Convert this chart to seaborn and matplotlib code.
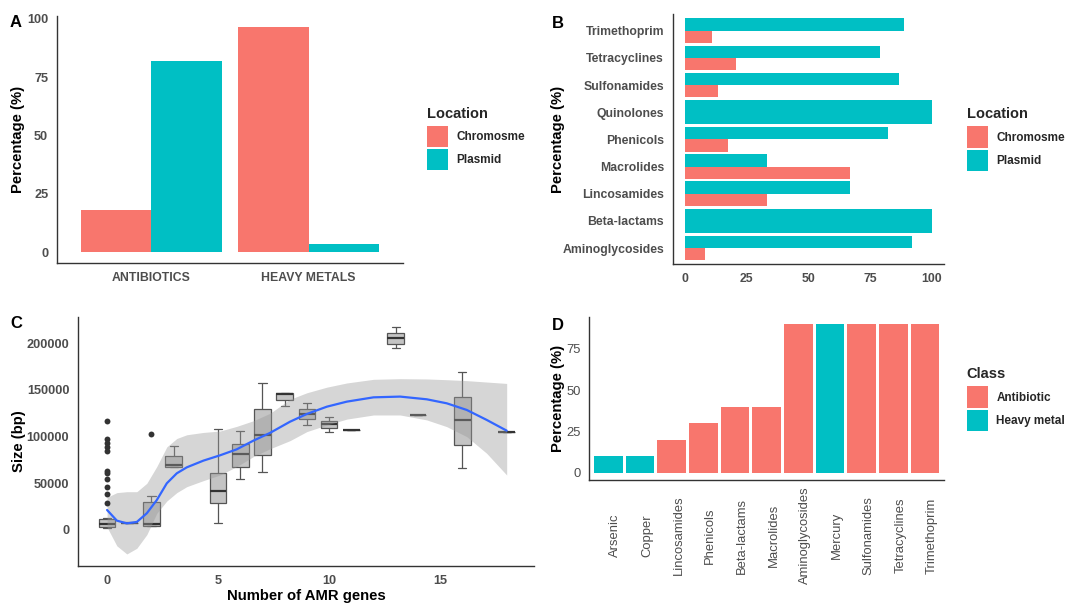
import numpy as np
import pandas as pd
import matplotlib
matplotlib.use("Agg")
import matplotlib.pyplot as plt
from matplotlib.patches import Patch
from matplotlib.transforms import ScaledTranslation
import seaborn as sns

sns.set_style("white")
plt.rcParams["font.family"] = ["Liberation Sans", "DejaVu Sans"]

# ---------------- data ----------------
# Panel A
a_types = ["ANTIBIOTICS", "HEAVY METALS"]
a_chromosome = [18.2, 96.5]
a_plasmid = [81.8, 3.5]

# Panel B (None = no chromosomal gene)
b_classes = ["Trimethoprim", "Tetracyclines", "Sulfonamides", "Quinolones", "Phenicols",
             "Macrolides", "Lincosamides", "Beta-lactams", "Aminoglycosides"]
b_plasmid = [88.9, 79.2, 86.8, 100.0, 82.4, 33.3, 66.7, 100.0, 92.1]
b_chromosome = [11.1, 20.8, 13.2, None, 17.6, 66.7, 33.3, None, 7.9]

# Panel C: box summaries (bp) per number of AMR genes
c_genes = [0, 1, 2, 3, 5, 6, 7, 8, 9, 10, 11, 13, 14, 16, 18]
c_min = [1800, 7100, 4000, 67900, 7100, 55000, 61800, 133200, 112500, 105400, 107100, 194600, 123200, 66800, 105000]
c_q1 = [3600, 7100, 4300, 67900, 28600, 67100, 80400, 139300, 118600, 109000, 107100, 199600, 123200, 91400, 105000]
c_med = [6800, 7100, 6400, 69600, 41400, 81400, 101800, 145700, 124300, 113200, 107100, 205400, 123200, 118200, 105000]
c_q3 = [11400, 7100, 29600, 79000, 61400, 92500, 129300, 146400, 129300, 116400, 107100, 211400, 123200, 142900, 105000]
c_max = [13000, 7100, 36800, 90000, 108200, 106000, 157900, 146400, 135700, 120700, 107100, 217100, 123200, 169600, 105000]
c_out_x = [0, 0, 0, 0, 0, 0, 0, 0, 0, 0, 0, 2]
c_out_y = [117000, 97500, 93600, 89300, 85000, 63600, 60700, 54300, 46400, 38200, 29300, 102500]
# loess fit and confidence band (bp)
c_fit_x = [0, 0.44, 0.89, 1.34, 1.79, 2.24, 2.69, 3.14, 3.59, 4.34, 5.09, 5.84, 6.59, 7.34,
           8.24, 9.0, 9.9, 10.8, 12.0, 13.2, 14.4, 15.3, 16.2, 17.1, 18.0]
c_fit = [21400, 10000, 7100, 8600, 17900, 32100, 50000, 60700, 67100, 74300, 80000, 86400, 95700, 104000,
         116000, 124300, 132100, 137500, 142100, 142900, 140000, 135700, 128600, 117900, 106400]
c_hi = [35000, 40000, 41000, 41000, 50000, 68000, 89000, 98000, 102000, 104500, 106000, 111000, 117000, 125000,
        140000, 147000, 153000, 157500, 161400, 162100, 161800, 161000, 160000, 158500, 157000]
c_lo = [3000, -17000, -25700, -19600, -5000, 17900, 31000, 40000, 46400, 52900, 58900, 67900, 78600, 87000,
        95700, 105400, 112500, 118800, 123200, 123200, 117900, 110700, 100000, 82100, 58900]

# Panel D
d_names = ["Arsenic", "Copper", "Lincosamides", "Phenicols", "Beta-lactams", "Macrolides",
           "Aminoglycosides", "Mercury", "Sulfonamides", "Tetracyclines", "Trimethoprim"]
d_pct = [10, 10, 20, 30, 40, 40, 90, 90, 90, 90, 90]
d_class = ["Heavy metal", "Heavy metal", "Antibiotic", "Antibiotic", "Antibiotic", "Antibiotic",
           "Antibiotic", "Heavy metal", "Antibiotic", "Antibiotic", "Antibiotic"]

RED, TEAL = "#F8766D", "#00BFC4"
W, H = 1066, 608
fig = plt.figure(figsize=(W / 100, H / 100), dpi=100)


def add_ax(l, t, r, b):
    return fig.add_axes([l / W, 1 - b / H, (r - l) / W, (b - t) / H])


def style(ax, size=8.8):
    sns.despine(ax=ax)
    for s in ("left", "bottom"):
        ax.spines[s].set_color("#333333")
        ax.spines[s].set_linewidth(1.0)
    ax.tick_params(length=3.8, width=0.9, color="#333333", labelcolor="#4D4D4D",
                   pad=2.5, labelsize=size)


def ylab(ax, text, px_x, l, r):
    ax.set_ylabel(text, fontsize=10.7, fontweight="bold", color="black", va="center")
    ax.yaxis.set_label_coords((px_x - l) / (r - l), 0.5)


def legend(ax, title, labels, colors, x_px, top_px):
    handles = [Patch(facecolor=c, edgecolor="none") for c in colors]
    leg = ax.legend(handles, labels, title=title, loc="upper left",
                    bbox_to_anchor=(x_px / W, 1 - top_px / H), bbox_transform=fig.transFigure,
                    frameon=False, borderpad=0, borderaxespad=0, handlelength=1.8,
                    handleheight=2.4, handletextpad=0.7, labelspacing=0.17, fontsize=8.5,
                    title_fontproperties={"weight": "bold", "size": 10.5}, alignment="left")
    for t in leg.get_texts():
        t.set_fontweight("bold")
    leg._legend_box.sep = 3.6  # gap between title and keys (points)
    return leg


# ---------------- Panel A ----------------
dfA = pd.DataFrame({
    "Type": a_types * 2,
    "Percentage": a_chromosome + a_plasmid,
    "Location": ["Chromosme"] * 2 + ["Plasmid"] * 2,
})
axA = add_ax(57, 15.7, 403, 263.3)
sns.barplot(data=dfA, x="Type", y="Percentage", hue="Location", order=a_types,
            hue_order=["Chromosme", "Plasmid"], palette=[RED, TEAL], width=0.9,
            saturation=1, legend=False, ax=axA, linewidth=0)
style(axA)
axA.set_xlim(-0.6, 1.6)
axA.set_ylim(-4.83, 101.33)
axA.set_yticks([0, 25, 50, 75, 100], ["0", "25", "50", "75", "100"], fontweight="bold", fontsize=9.2)
axA.set_xticks([0, 1], a_types, fontweight="bold")
axA.set_xlabel("")
ylab(axA, "Percentage (%)", 18.5, 57, 403)
legend(axA, "Location", ["Chromosme", "Plasmid"], [RED, TEAL], 427, 106.7)

# ---------------- Panel B ----------------
rows = []
for c, p, ch in zip(b_classes, b_plasmid, b_chromosome):
    if ch is not None:
        rows.append((c, "Plasmid", p))
        rows.append((c, "Chromosme", ch))
dfB = pd.DataFrame(rows, columns=["Class", "Location", "Percentage"])
dfB1 = pd.DataFrame([(c, p) for c, p, ch in zip(b_classes, b_plasmid, b_chromosome) if ch is None],
                    columns=["Class", "Percentage"])
axB = add_ax(672.7, 14.4, 944, 264.3)
sns.barplot(data=dfB, y="Class", x="Percentage", hue="Location", order=b_classes,
            hue_order=["Plasmid", "Chromosme"], palette=[TEAL, RED], width=0.9,
            saturation=1, legend=False, orient="h", ax=axB, linewidth=0)
sns.barplot(data=dfB1, y="Class", x="Percentage", order=b_classes, color=TEAL, width=0.9,
            saturation=1, orient="h", ax=axB, linewidth=0)
style(axB)
axB.set_xlim(-5, 105)
axB.set_ylim(8.6, -0.6)
axB.set_xticks([0, 25, 50, 75, 100], ["0", "25", "50", "75", "100"], fontweight="bold")
axB.set_yticks(range(len(b_classes)), b_classes, fontweight="bold")
axB.set_xlabel("")
ylab(axB, "Percentage (%)", 558, 672.7, 944)
legend(axB, "Location", ["Chromosme", "Plasmid"], [RED, TEAL], 966.7, 107.3)

# ---------------- Panel C ----------------
xs, ys = [], []
for g, a, b, m, c, d in zip(c_genes, c_min, c_q1, c_med, c_q3, c_max):
    xs += [g] * 5
    ys += [a, b, m, c, d]
dfC = pd.DataFrame({"genes": xs, "size": ys})
axC = add_ax(78, 316.7, 534, 566)
sns.boxplot(data=dfC, x="genes", y="size", native_scale=True, whis=(0, 100), width=0.75,
            color="#C4C4C4", saturation=1, linecolor="#555555", linewidth=0.9, fliersize=0,
            medianprops={"linewidth": 1.6, "color": "#333333"}, ax=axC)
sns.scatterplot(x=c_out_x, y=c_out_y, color="#333333", s=18, linewidth=0, ax=axC, zorder=3)
axC.fill_between(c_fit_x, c_lo, c_hi, color="#999999", alpha=0.4, linewidth=0, zorder=2.5)
sns.lineplot(x=c_fit_x, y=c_fit, color="#3366FF", linewidth=1.6, ax=axC, zorder=3)
style(axC, 9.2)
axC.set_xlim(-1.31, 19.23)
axC.set_ylim(-38600, 228500)
axC.set_xticks([0, 5, 10, 15], ["0", "5", "10", "15"], fontweight="bold")
axC.set_yticks([0, 50000, 100000, 150000, 200000],
               ["0", "50000", "100000", "150000", "200000"], fontweight="bold")
axC.set_xlabel("Number of AMR genes", fontsize=10.7, fontweight="bold", color="black", va="center")
axC.xaxis.set_label_coords(0.5, -(596 - 566) / (566 - 316.7))
ylab(axC, "Size (bp)", 19.5, 78, 534)

# ---------------- Panel D ----------------
dfD = pd.DataFrame({"Name": d_names, "Percentage": d_pct, "Class": d_class})
axD = add_ax(589.3, 316.7, 944, 480.4)
sns.barplot(data=dfD, x="Name", y="Percentage", hue="Class", order=d_names,
            hue_order=["Antibiotic", "Heavy metal"], palette=[RED, TEAL], dodge=False,
            width=0.9, saturation=1, legend=False, ax=axD, linewidth=0)
style(axD, 9.4)
axD.set_xlim(-0.6, 10.6)
axD.set_ylim(-4.5, 94.5)
axD.set_yticks([0, 25, 50, 75], ["0", "25", "50", "75"])
axD.set_xticks(range(len(d_names)), d_names, rotation=90, ha="center", va="center", fontsize=9.4)
axD.tick_params(axis="x", pad=36)
for lbl in axD.get_xticklabels():
    lbl.set_transform(lbl.get_transform() + ScaledTranslation(7 / 100, 0, fig.dpi_scale_trans))
axD.set_xlabel("")
ylab(axD, "Percentage (%)", 558.3, 589.3, 944)
legend(axD, "Class", ["Antibiotic", "Heavy metal"], [RED, TEAL], 966.7, 367.3)

# ---------------- panel letters ----------------
for letter, x, y in [("A", 15.5, 22.5), ("B", 557.5, 23), ("C", 16, 323), ("D", 557.5, 325)]:
    fig.text(x / W, 1 - y / H, letter, fontsize=12, fontweight="bold", ha="center",
             va="center", color="black")

fig.savefig("out.png", dpi=100, facecolor="white")
